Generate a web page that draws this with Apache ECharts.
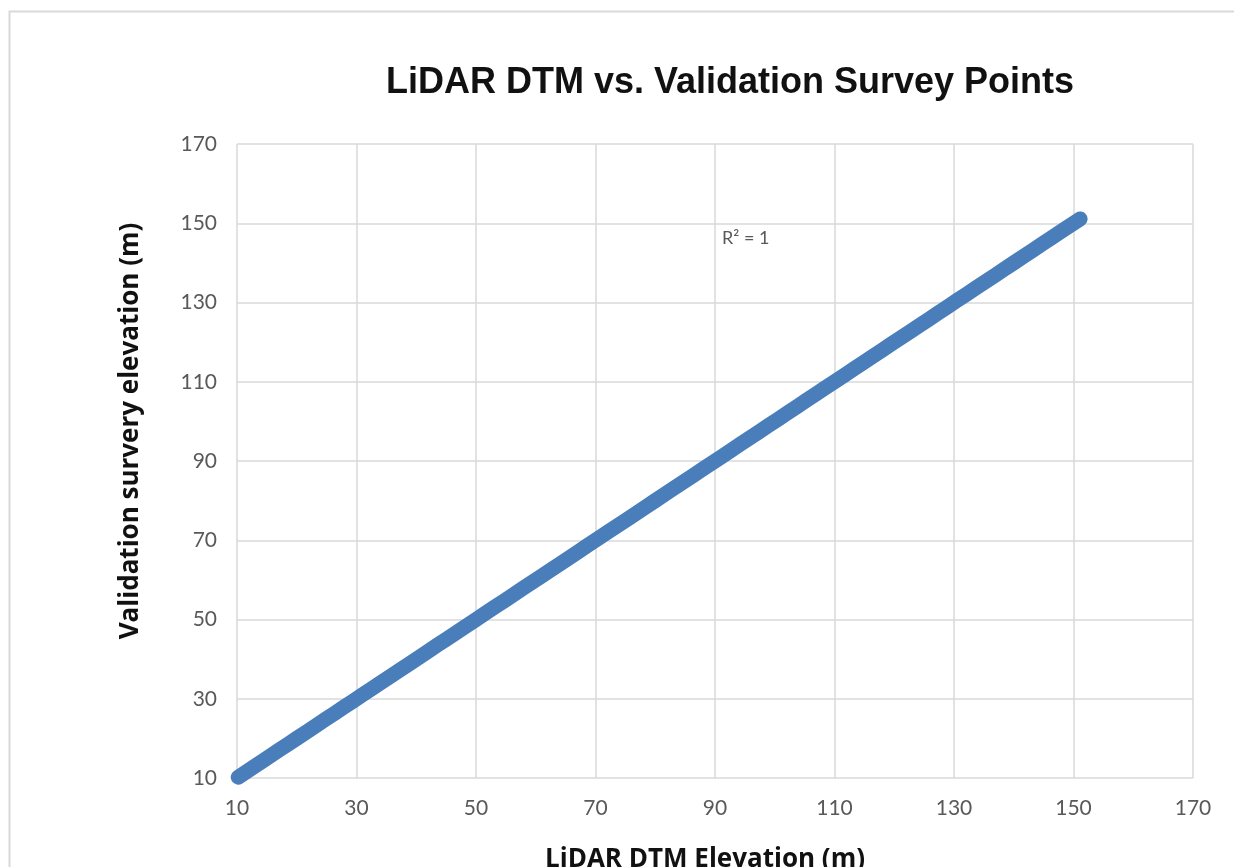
<!DOCTYPE html>
<html>
<head>
<meta charset="utf-8">
<script src="https://cdn.jsdelivr.net/npm/echarts@6/dist/echarts.min.js"></script>
<style>
  html, body { margin: 0; padding: 0; background: #ffffff; }
  #chart { width: 1234px; height: 867px; }
</style>
</head>
<body>
<div id="chart"></div>
<script>
// LiDAR DTM elevations (m) at the validation survey locations
const lidarElevation = [
  10.2, 11.4, 12.9, 14.3, 15.8, 17.1, 18.6, 20.0, 21.7, 23.2, 24.8, 26.3, 27.9, 29.4,
  31.0, 32.6, 34.1, 35.7, 37.2, 38.8, 40.5, 42.0, 43.6, 45.1, 46.8, 48.3, 49.9, 51.5,
  53.0, 54.7, 56.2, 57.8, 59.4, 61.0, 62.5, 64.1, 65.8, 67.3, 68.9, 70.5, 72.0, 73.6,
  75.2, 76.9, 78.4, 80.0, 81.6, 83.1, 84.7, 86.3, 87.9, 89.5, 91.1, 92.6, 94.2, 95.8,
  97.4, 99.0, 100.5, 102.1, 103.7, 105.3, 106.9, 108.4, 110.0, 111.6, 113.2, 114.8,
  116.3, 117.9, 119.5, 121.1, 122.7, 124.2, 125.8, 127.4, 129.0, 130.6, 132.1, 133.7,
  135.3, 136.9, 138.5, 140.0, 141.6, 143.2, 144.8, 146.4, 147.9, 149.5, 151.1
];
// Surveyed elevations (m) at the same locations
const surveyElevation = [
  10.2, 11.4, 12.9, 14.3, 15.8, 17.1, 18.6, 20.0, 21.7, 23.2, 24.8, 26.3, 27.9, 29.4,
  31.0, 32.6, 34.1, 35.7, 37.2, 38.8, 40.5, 42.0, 43.6, 45.1, 46.8, 48.3, 49.9, 51.5,
  53.0, 54.7, 56.2, 57.8, 59.4, 61.0, 62.5, 64.1, 65.8, 67.3, 68.9, 70.5, 72.0, 73.6,
  75.2, 76.9, 78.4, 80.0, 81.6, 83.1, 84.7, 86.3, 87.9, 89.5, 91.1, 92.6, 94.2, 95.8,
  97.4, 99.0, 100.5, 102.1, 103.7, 105.3, 106.9, 108.4, 110.0, 111.6, 113.2, 114.8,
  116.3, 117.9, 119.5, 121.1, 122.7, 124.2, 125.8, 127.4, 129.0, 130.6, 132.1, 133.7,
  135.3, 136.9, 138.5, 140.0, 141.6, 143.2, 144.8, 146.4, 147.9, 149.5, 151.1
];
const axisMin = 10;
const axisMax = 170;
const axisStep = 20;
const chartTitle = 'LiDAR DTM vs. Validation Survey Points';
const xTitle = 'LiDAR DTM Elevation (m)';
const yTitle = 'Validation survery elevation (m)';
const fitLabel = 'R² = 1';

const points = lidarElevation.map((x, i) => [x, surveyElevation[i]]);

const tickFont = 'Lato, "Open Sans", sans-serif';
const nameFont = '"Open Sans", Lato, sans-serif';
const gridColor = '#d9d9d9';

const chart = echarts.init(document.getElementById('chart'), null, { renderer: 'canvas' });
chart.setOption({
  animation: false,
  backgroundColor: '#ffffff',
  title: {
    text: chartTitle,
    left: 725,
    top: 60,
    textAlign: 'center',
    textStyle: {
      fontFamily: '"Liberation Sans", Arial, sans-serif',
      fontWeight: 'bold',
      fontSize: 36,
      color: '#111111'
    }
  },
  grid: { left: 237, right: 41, top: 144, bottom: 89, outerBoundsMode: 'none', containLabel: false },
  xAxis: {
    type: 'value',
    min: axisMin, max: axisMax, interval: axisStep,
    axisLine: { show: false },
    axisTick: { show: false },
    axisLabel: { fontFamily: tickFont, fontSize: 21, color: '#595959', margin: 20 },
    splitLine: { show: true, lineStyle: { color: gridColor, width: 1.5 } }
  },
  yAxis: {
    type: 'value',
    min: axisMin, max: axisMax, interval: axisStep,
    axisLine: { show: false },
    axisTick: { show: false },
    axisLabel: { fontFamily: tickFont, fontSize: 21, color: '#595959', margin: 20 },
    splitLine: { show: true, lineStyle: { color: gridColor, width: 1.5 } }
  },
  series: [{
    type: 'line',
    data: points,
    showSymbol: false,
    symbol: 'none',
    lineStyle: { color: '#4a7ebb', width: 15, cap: 'round', join: 'round' },
    silent: true,
    z: 3
  }],
  graphic: [
    {
      type: 'rect',
      shape: { x: 9.5, y: 11.5, width: 1400, height: 1000 },
      style: { fill: 'none', stroke: '#d9d9d9', lineWidth: 2 },
      silent: true,
      z: -1
    },
    {
      // x-axis title
      type: 'text',
      x: 705,
      y: 860,
      style: {
        text: xTitle, fontFamily: nameFont, fontWeight: 'bold', fontSize: 26,
        fill: '#111111', align: 'center', verticalAlign: 'middle'
      },
      silent: true
    },
    {
      // y-axis title
      type: 'text',
      x: 131,
      y: 431,
      rotation: Math.PI / 2,
      style: {
        text: yTitle, fontFamily: nameFont, fontWeight: 'bold', fontSize: 26,
        fill: '#111111', align: 'center', verticalAlign: 'middle'
      },
      silent: true
    },
    {
      type: 'text',
      left: 722,
      top: 229,
      style: { text: fitLabel, fontFamily: tickFont, fontSize: 18, fill: '#595959' },
      silent: true
    }
  ]
});
</script>
</body>
</html>
